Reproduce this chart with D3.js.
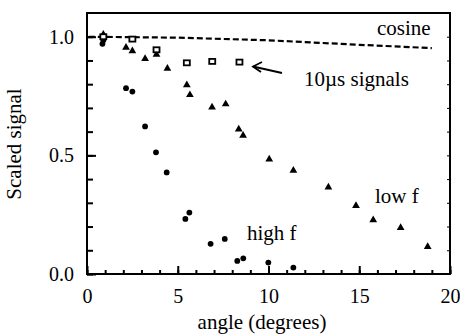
<!DOCTYPE html>
<html>
<head>
<meta charset="utf-8">
<script src="https://cdn.jsdelivr.net/npm/d3@7"></script>
<style>
  html, body { margin: 0; padding: 0; background: #fff; }
  svg { display: block; }
  text { font-family: "Liberation Serif", "DejaVu Serif", serif; fill: #000; }
</style>
</head>
<body>
<svg id="chart" width="460" height="335"></svg>
<script>
// ---- data ----
const lowF = [ // triangles: [angle, scaled signal]
  [0.9, 1.01], [2.15, 0.955], [2.5, 0.94], [3.2, 0.907], [3.83, 0.925],
  [4.43, 0.866], [5.5, 0.797], [5.67, 0.755], [6.89, 0.703], [7.64, 0.716],
  [8.36, 0.61], [8.6, 0.584], [10.04, 0.484], [11.37, 0.436], [13.3, 0.366],
  [14.82, 0.288], [15.77, 0.228], [17.28, 0.195], [18.77, 0.115]
];
const highF = [ // filled circles
  [0.85, 0.97], [0.9, 0.985], [2.15, 0.783], [2.5, 0.769], [3.2, 0.622],
  [3.8, 0.513], [4.39, 0.428], [5.42, 0.232], [5.64, 0.259], [6.81, 0.127],
  [7.59, 0.148], [8.28, 0.055], [8.61, 0.066], [9.99, 0.048], [11.37, 0.027]
];
const signals10us = [ // open squares
  [0.9, 1.0], [2.5, 0.99], [3.83, 0.945], [5.5, 0.89], [6.9, 0.896], [8.4, 0.893]
];
const cosineLine = [ // dashed reference curve
  [0.1, 1.0], [5, 0.996], [10, 0.985], [15, 0.966], [19, 0.952]
];
const xMajorTicks = [0, 5, 10, 15, 20];
const xMinorTicks = d3.range(0, 21, 1);
const yMajorTicks = [0.0, 0.5, 1.0];
const yMinorTicks = d3.range(0, 11).map(i => i / 10);
const labels = {
  x: "angle (degrees)", y: "Scaled signal",
  cosine: "cosine", signals: "10\u00b5s signals", low: "low f", high: "high f"
};

// ---- layout ----
const svg = d3.select("#chart");
const x = d3.scaleLinear().domain([0, 20]).range([87, 450]);
const y = d3.scaleLinear().domain([0, 1.1]).range([274, 13]);
const FONT = '"Liberation Serif", "DejaVu Serif", serif';

// frame
svg.append("rect")
  .attr("x", x(0)).attr("y", y(1.1))
  .attr("width", x(20) - x(0)).attr("height", y(0) - y(1.1))
  .attr("fill", "none").attr("stroke", "#000").attr("stroke-width", 2);

function styleAxis(g) {
  g.attr("font-family", FONT);
  g.select(".domain").remove();
  g.selectAll(".tick line").attr("stroke", "#000").attr("stroke-width", 2);
}

// x axis minor + major (inward ticks)
svg.append("g").attr("transform", `translate(0,${y(0)})`)
  .call(d3.axisBottom(x).tickValues(xMinorTicks).tickSize(-4).tickFormat(""))
  .call(styleAxis);
svg.append("g").attr("transform", `translate(0,${y(0)})`)
  .call(d3.axisBottom(x).tickValues(xMajorTicks).tickSize(-8).tickPadding(15)
        .tickFormat(d3.format("d")))
  .call(styleAxis)
  .call(g => g.selectAll("text").attr("font-size", 20));

// y axis minor + major
svg.append("g").attr("transform", `translate(${x(0)},0)`)
  .call(d3.axisLeft(y).tickValues(yMinorTicks).tickSize(-6).tickFormat(""))
  .call(styleAxis);
svg.append("g").attr("transform", `translate(${x(0)},0)`)
  .call(d3.axisLeft(y).tickValues(yMajorTicks).tickSize(-9).tickPadding(13)
        .tickFormat(d3.format(".1f")))
  .call(styleAxis)
  .call(g => g.selectAll("text").attr("font-size", 20));

// right side small ticks
svg.append("g").attr("transform", `translate(${x(20)},0)`)
  .call(d3.axisRight(y).tickValues(yMinorTicks).tickSize(-3).tickFormat(""))
  .call(styleAxis)
  .call(g => g.selectAll(".tick line").attr("stroke-width", 1));

// axis titles
svg.append("text")
  .attr("x", 262).attr("y", 329)
  .attr("text-anchor", "middle").attr("font-size", 21)
  .text(labels.x);
svg.append("text")
  .attr("transform", "translate(21,144) rotate(-90)")
  .attr("text-anchor", "middle").attr("font-size", 21)
  .text(labels.y);

// cosine dashed line
svg.append("path")
  .datum(cosineLine)
  .attr("d", d3.line().x(d => x(d[0])).y(d => y(d[1])))
  .attr("fill", "none").attr("stroke", "#000").attr("stroke-width", 2.2)
  .attr("stroke-dasharray", "6,3");

// markers
svg.append("g").selectAll("path")
  .data(lowF).join("path")
  .attr("transform", d => `translate(${x(d[0])},${y(d[1])})`)
  .attr("d", d3.symbol(d3.symbolTriangle, 26))
  .attr("fill", "#000");

svg.append("g").selectAll("circle")
  .data(highF).join("circle")
  .attr("cx", d => x(d[0])).attr("cy", d => y(d[1]))
  .attr("r", 2.9).attr("fill", "#000");

svg.append("g").selectAll("rect")
  .data(signals10us).join("rect")
  .attr("x", d => x(d[0]) - 3).attr("y", d => y(d[1]) - 2.5)
  .attr("width", 6).attr("height", 5)
  .attr("fill", "#fff").attr("stroke", "#000").attr("stroke-width", 1.8);

// annotations
svg.append("text").attr("x", 377).attr("y", 35).attr("font-size", 21).text(labels.cosine);
svg.append("text").attr("x", 304).attr("y", 86).attr("font-size", 21).text(labels.signals);
svg.append("text").attr("x", 375).attr("y", 203).attr("font-size", 21).text(labels.low);
svg.append("text").attr("x", 247).attr("y", 240).attr("font-size", 21).text(labels.high);

// arrow pointing at the 10us signal squares
const arrow = svg.append("g").attr("stroke", "#000").attr("stroke-width", 1.8).attr("fill", "none");
arrow.append("line").attr("x1", 282).attr("y1", 73).attr("x2", 253).attr("y2", 66.5);
arrow.append("path").attr("d", "M262,62 L253,66.5 L261,72");
</script>
</body>
</html>
